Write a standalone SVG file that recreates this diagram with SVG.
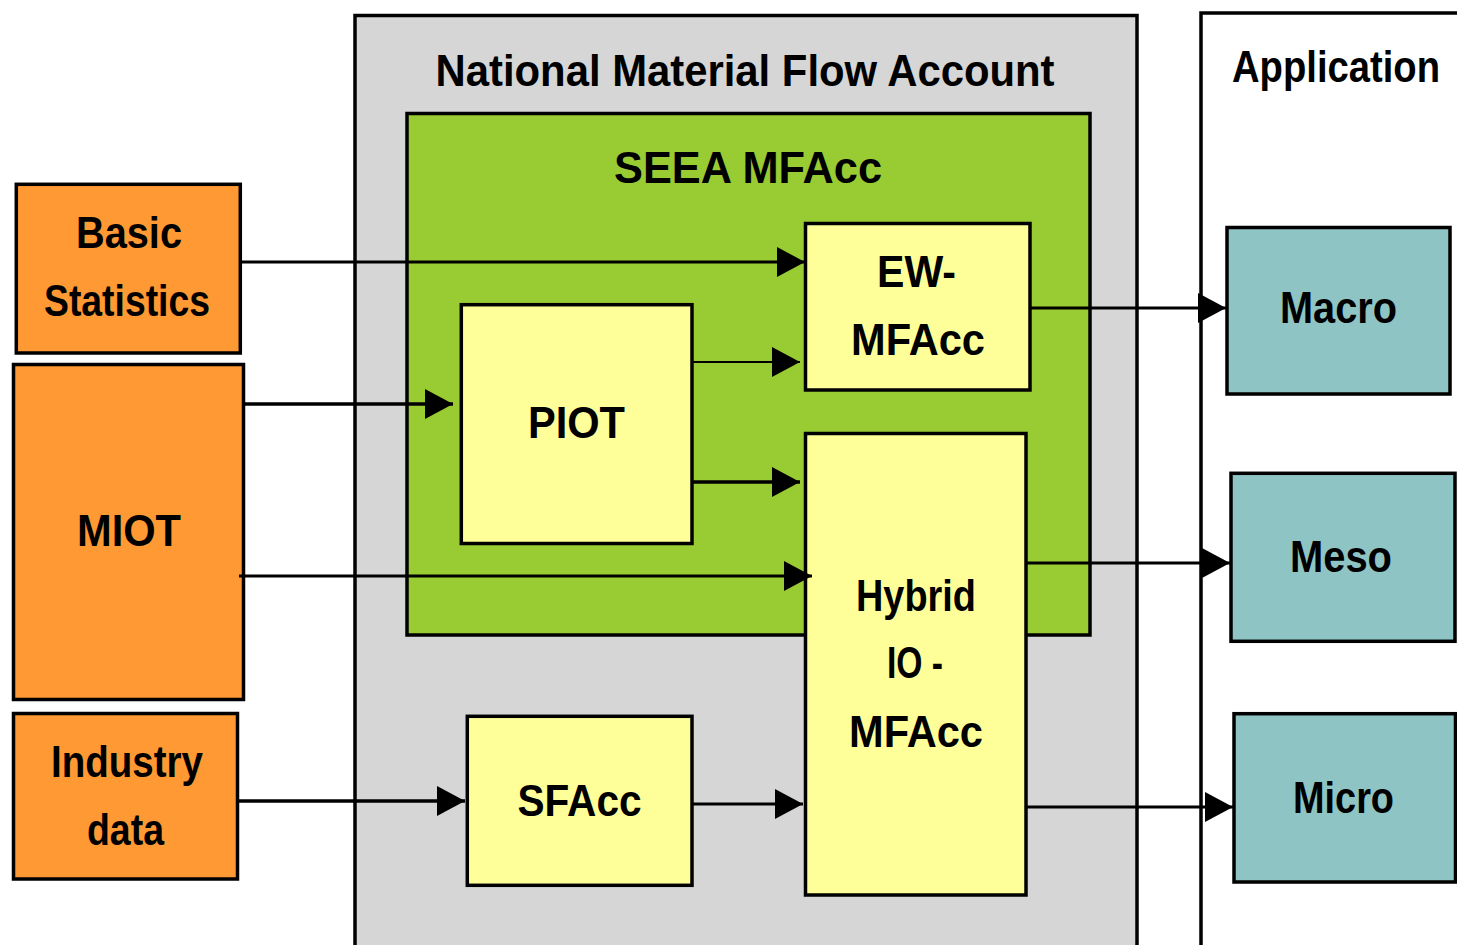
<svg xmlns="http://www.w3.org/2000/svg" width="1457" height="945" viewBox="0 0 1457 945">
<style>
text{font-family:"Liberation Sans",Arial,sans-serif;font-weight:bold;font-size:45px;fill:#000;text-anchor:middle}
.box{stroke:#000;stroke-width:3.5}
.gray{fill:#d6d6d6}
.green{fill:#99cc33}
.orange{fill:#ff9933}
.yellow{fill:#ffff99}
.teal{fill:#8fc4c4}
.white{fill:#fff}
.c{stroke:#000;fill:none}
</style>
<defs>
<marker id="ah" markerUnits="userSpaceOnUse" markerWidth="28" markerHeight="30" refX="28" refY="15" orient="auto" viewBox="0 0 28 30">
<path d="M0,0 L28,15 L0,30 Z" fill="#000"/>
</marker>
</defs>
<rect x="0" y="0" width="1457" height="945" fill="#fff"/>

<g id="nmfa">
<rect class="box gray" x="355" y="15.5" width="782" height="932"/>
<text x="745" y="86" textLength="619" lengthAdjust="spacingAndGlyphs">National Material Flow Account</text>
</g>
<g id="seea">
<rect class="box green" x="407" y="113.5" width="683" height="521.5"/>
<text x="748" y="183" textLength="268" lengthAdjust="spacingAndGlyphs">SEEA MFAcc</text>
</g>
<g id="application">
<rect class="box white" x="1201" y="13" width="258" height="934"/>
<text x="1336" y="82" textLength="208" lengthAdjust="spacingAndGlyphs">Application</text>
</g>

<g id="basic-statistics">
<rect class="box orange" x="16.3" y="184.3" width="224" height="168.7"/>
<text x="129" y="248" textLength="106" lengthAdjust="spacingAndGlyphs">Basic</text>
<text x="127" y="316" textLength="166" lengthAdjust="spacingAndGlyphs">Statistics</text>
</g>
<g id="miot">
<rect class="box orange" x="13.5" y="364.5" width="230" height="335"/>
<text x="129" y="546" textLength="104" lengthAdjust="spacingAndGlyphs">MIOT</text>
</g>
<g id="industry-data">
<rect class="box orange" x="13.5" y="713.5" width="224" height="165.5"/>
<text x="127" y="777" textLength="152" lengthAdjust="spacingAndGlyphs">Industry</text>
<text x="125.5" y="845" textLength="77" lengthAdjust="spacingAndGlyphs">data</text>
</g>
<g id="ew-mfacc">
<rect class="box yellow" x="805.5" y="223.5" width="224.5" height="166.5"/>
<text x="916.5" y="287" textLength="79" lengthAdjust="spacingAndGlyphs">EW-</text>
<text x="918" y="355" textLength="134" lengthAdjust="spacingAndGlyphs">MFAcc</text>
</g>
<g id="piot">
<rect class="box yellow" x="461.3" y="304.7" width="230.7" height="238.8"/>
<text x="576.5" y="438" textLength="97" lengthAdjust="spacingAndGlyphs">PIOT</text>
</g>
<g id="hybrid-io-mfacc">
<rect class="box yellow" x="805.5" y="433.5" width="220.5" height="461.5"/>
<text x="916" y="611" textLength="120" lengthAdjust="spacingAndGlyphs">Hybrid</text>
<text x="915" y="678" textLength="56" lengthAdjust="spacingAndGlyphs">IO -</text>
<text x="916" y="747" textLength="134" lengthAdjust="spacingAndGlyphs">MFAcc</text>
</g>
<g id="sfacc">
<rect class="box yellow" x="467.3" y="716.3" width="224.7" height="169"/>
<text x="579.5" y="816" textLength="124" lengthAdjust="spacingAndGlyphs">SFAcc</text>
</g>
<g id="macro">
<rect class="box teal" x="1227" y="227.5" width="223" height="166.5"/>
<text x="1338.5" y="323" textLength="117" lengthAdjust="spacingAndGlyphs">Macro</text>
</g>
<g id="meso">
<rect class="box teal" x="1231" y="473.3" width="224" height="168"/>
<text x="1341" y="572" textLength="102" lengthAdjust="spacingAndGlyphs">Meso</text>
</g>
<g id="micro">
<rect class="box teal" x="1234" y="713.7" width="221.5" height="168.3"/>
<text x="1343.5" y="813" textLength="101" lengthAdjust="spacingAndGlyphs">Micro</text>
</g>

<g id="connectors">
<line class="c" x1="241" y1="262" x2="805" y2="262" stroke-width="3" marker-end="url(#ah)"/>
<line class="c" x1="244" y1="404" x2="453" y2="404" stroke-width="3.5" marker-end="url(#ah)"/>
<line class="c" x1="692" y1="362" x2="800" y2="362" stroke-width="2" marker-end="url(#ah)"/>
<line class="c" x1="692" y1="482" x2="800" y2="482" stroke-width="3.5" marker-end="url(#ah)"/>
<line class="c" x1="239" y1="576" x2="812" y2="576" stroke-width="3" marker-end="url(#ah)"/>
<line class="c" x1="237" y1="801" x2="465" y2="801" stroke-width="3.5" marker-end="url(#ah)"/>
<line class="c" x1="692" y1="804" x2="803" y2="804" stroke-width="3" marker-end="url(#ah)"/>
<line class="c" x1="1030" y1="308" x2="1226" y2="308" stroke-width="3" marker-end="url(#ah)"/>
<line class="c" x1="1026" y1="563" x2="1230" y2="563" stroke-width="3" marker-end="url(#ah)"/>
<line class="c" x1="1026" y1="807" x2="1233" y2="807" stroke-width="3" marker-end="url(#ah)"/>
</g>
</svg>
